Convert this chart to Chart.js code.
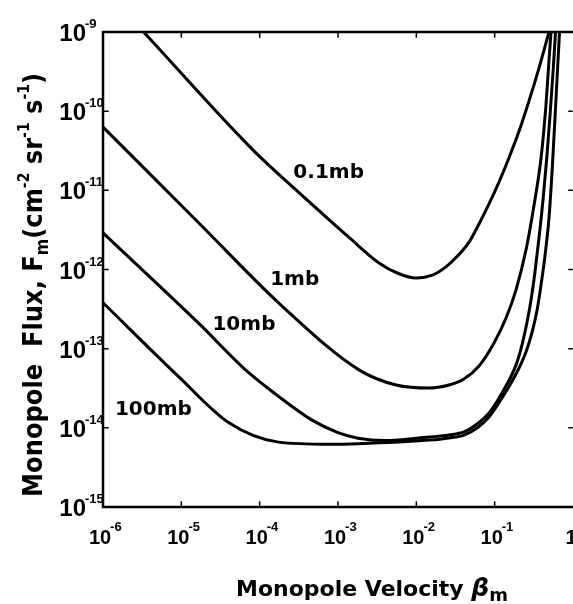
<!DOCTYPE html>
<html>
<head>
<meta charset="utf-8">
<script src="https://cdn.jsdelivr.net/npm/chart.js@4.4.1/dist/chart.umd.min.js"></script>
<style>
  body { margin: 0; background: #fff; overflow: hidden; }
  #wrap { width: 573px; height: 604px; }
</style>
</head>
<body>
<div id="wrap"><canvas id="fluxChart" width="573" height="604"></canvas></div>
<script>
// values (beta, flux in cm^-2 sr^-1 s^-1)
var beta01 = [3.3e-6, 8.3e-5, 3.2e-4, 7.6e-4, 1.35e-3, 3.34e-3, 5.9e-3, 9.9e-3, 1.6e-2, 2.39e-2, 3.4e-2, 4.71e-2, 6.31e-2, 8.47e-2, 0.1135, 0.152, 0.205, 0.274, 0.368, 0.494];
var flux01 = [1e-9, 3.2e-11, 9.3e-12, 4.3e-12, 2.6e-12, 1.21e-12, 8.9e-13, 7.8e-13, 8.5e-13, 1.08e-12, 1.50e-12, 2.22e-12, 3.76e-12, 6.73e-12, 1.27e-11, 2.56e-11, 5.6e-11, 1.34e-10, 3.5e-10, 1e-9];

var beta1 = [1e-6, 1.66e-5, 1.9e-4, 1.85e-3, 5.5e-3, 1.452e-2, 2.61e-2, 4.06e-2, 6.31e-2, 9.81e-2, 0.1396, 0.187, 0.251, 0.318, 0.391, 0.452, 0.494, 0.524];
var flux1 = [6.3e-11, 3.9e-12, 3.5e-13, 5.4e-14, 3.48e-14, 3.18e-14, 3.48e-14, 4.14e-14, 6.04e-14, 1.18e-13, 2.44e-13, 5.5e-13, 1.76e-12, 6.5e-12, 2.56e-11, 1.2e-10, 4.4e-10, 1e-9];

var beta10 = [1e-6, 1.66e-5, 6.6e-5, 1.74e-4, 4.6e-4, 1.0e-3, 1.8e-3, 4.0e-3, 1.452e-2, 2.61e-2, 4.06e-2, 5.96e-2, 8.47e-2, 0.124, 0.187, 0.223, 0.259, 0.291, 0.327, 0.368, 0.414, 0.466, 0.509, 0.556, 0.598];
var flux10 = [2.9e-12, 2.1e-13, 5.4e-14, 2.5e-14, 1.26e-14, 8.7e-15, 7.4e-15, 6.9e-15, 7.65e-15, 8.12e-15, 8.87e-15, 1.12e-14, 1.54e-14, 2.76e-14, 6.2e-14, 1.11e-13, 2.17e-13, 4.1e-13, 9.3e-13, 2.5e-12, 7.5e-12, 2.8e-11, 8.9e-11, 3.1e-10, 1e-9];

var beta100 = [1e-6, 9.3e-6, 4.1e-5, 1.74e-4, 7.6e-4, 1.8e-3, 1.452e-2, 2.61e-2, 4.06e-2, 5.96e-2, 8.47e-2, 0.124, 0.193, 0.251, 0.299, 0.348, 0.391, 0.440, 0.494, 0.540, 0.589, 0.644, 0.673];
var flux100 = [3.8e-13, 4.4e-14, 1.15e-14, 6.6e-15, 6.2e-15, 6.3e-15, 7.0e-15, 7.45e-15, 8.1e-15, 9.96e-15, 1.37e-14, 2.38e-14, 5.07e-14, 9.1e-14, 1.58e-13, 3.08e-13, 6.4e-13, 1.52e-12, 4.5e-12, 1.7e-11, 8.2e-11, 4.4e-10, 1e-9];

var curveNames = ['0.1mb', '1mb', '10mb', '100mb'];
var labelBeta = [7.6e-4, 2.8e-4, 6.3e-5, 4.4e-6];
var labelFlux = [1.66e-11, 7.4e-13, 2.0e-13, 1.7e-14];

var xTickValues = [1e-6, 1e-5, 1e-4, 1e-3, 1e-2, 1e-1, 1];
var xTickLabels = ['10^-6', '10^-5', '10^-4', '10^-3', '10^-2', '10^-1', '1'];
var yTickValues = [1e-9, 1e-10, 1e-11, 1e-12, 1e-13, 1e-14, 1e-15];
var yTickLabels = ['10^-9', '10^-10', '10^-11', '10^-12', '10^-13', '10^-14', '10^-15'];

function toPoints(xs, ys) {
    return xs.map(function (x, i) { return { x: x, y: ys[i] }; });
}

// draw a list of [text, size, dy, italic] pieces along the baseline, squeezed by sx
function richText(ctx, parts, family, sx, measureOnly) {
    var w = 0;
    parts.forEach(function (p) {
        ctx.font = (p[3] ? 'italic ' : '') + 'bold ' + p[1] + 'px ' + family;
        if (!measureOnly) ctx.fillText(p[0], w, p[2]);
        w += ctx.measureText(p[0]).width;
    });
    return w * sx;
}

var framePlugin = {
    id: 'frame',
    afterDraw: function (chart) {
        var ctx = chart.ctx;
        var a = chart.chartArea;
        var xs = chart.scales.x, ys = chart.scales.y;
        ctx.save();
        ctx.strokeStyle = '#000';
        ctx.fillStyle = '#000';
        ctx.lineCap = 'square';

        // box
        ctx.lineWidth = 2.5;
        ctx.beginPath();
        ctx.moveTo(a.right, a.top); ctx.lineTo(a.left, a.top);
        ctx.lineTo(a.left, a.bottom); ctx.lineTo(a.right, a.bottom);
        ctx.stroke();

        // inward ticks
        ctx.lineWidth = 1.5;
        xTickValues.slice(1, -1).forEach(function (v) {
            var px = xs.getPixelForValue(v);
            ctx.beginPath();
            ctx.moveTo(px, a.bottom); ctx.lineTo(px, a.bottom - 5);
            ctx.moveTo(px, a.top); ctx.lineTo(px, a.top + 5);
            ctx.stroke();
        });
        yTickValues.slice(1, -1).forEach(function (v) {
            var py = ys.getPixelForValue(v);
            ctx.beginPath();
            ctx.moveTo(a.left, py); ctx.lineTo(a.left + 5, py);
            ctx.moveTo(a.right - 1, py); ctx.lineTo(a.right - 4, py);
            ctx.stroke();
        });

        // x tick labels
        xTickLabels.forEach(function (lab, i) {
            var px = xs.getPixelForValue(xTickValues[i]);
            var parts = lab.split('^');
            ctx.font = 'bold 20px "Liberation Sans", Arial, sans-serif';
            ctx.textAlign = 'center';
            ctx.textBaseline = 'alphabetic';
            var cx = parts.length > 1 ? px - 3 : px - 2;
            ctx.fillText(parts[0], cx, a.bottom + 37);
            if (parts.length > 1) {
                var bw = ctx.measureText(parts[0]).width;
                ctx.font = 'bold 13px "Liberation Sans", Arial, sans-serif';
                ctx.textAlign = 'left';
                ctx.fillText(parts[1], cx + bw / 2 - 1, a.bottom + 24);
            }
        });

        // y tick labels
        yTickLabels.forEach(function (lab, i) {
            var py = ys.getPixelForValue(yTickValues[i]);
            var parts = lab.split('^');
            ctx.font = 'bold 24px "Liberation Sans", Arial, sans-serif';
            ctx.textAlign = 'right';
            ctx.textBaseline = 'alphabetic';
            ctx.fillText(parts[0], a.left - 17, py + 9);
            ctx.font = 'bold 13px "Liberation Sans", Arial, sans-serif';
            ctx.textAlign = 'left';
            ctx.fillText(parts[1], a.left - 18, py - 4);
        });

        // curve labels
        ctx.font = 'bold 20px "DejaVu Sans", sans-serif';
        ctx.textAlign = 'center';
        ctx.textBaseline = 'middle';
        curveNames.forEach(function (name, i) {
            ctx.fillText(name, xs.getPixelForValue(labelBeta[i]), ys.getPixelForValue(labelFlux[i]));
        });

        // axis titles
        ctx.textAlign = 'left';
        ctx.textBaseline = 'alphabetic';
        var fam = '"DejaVu Sans", sans-serif';

        var xParts = [['Monopole Velocity ', 22, 0], ['\u03b2', 25, 0, true], ['m', 18, 5]];
        var sxX = 1.0;
        var wX = richText(ctx, xParts, fam, sxX, true);
        ctx.save();
        ctx.translate(372 - wX / 2, 596);
        ctx.scale(sxX, 1);
        richText(ctx, xParts, fam, sxX, false);
        ctx.restore();

        var yParts = [['Monopole  Flux, F', 26, 0], ['m', 17, 6], ['(cm', 26, 0], ['-2', 15, -13],
                      [' sr', 26, 0], ['-1', 15, -13], [' s', 26, 0], ['-1', 15, -13], [')', 26, 0]];
        var wY = richText(ctx, yParts, fam, 1, true);
        var sxY = 424 / wY;
        ctx.save();
        ctx.translate(42, 497);
        ctx.rotate(-Math.PI / 2);
        ctx.scale(sxY, 1);
        richText(ctx, yParts, fam, sxY, false);
        ctx.restore();

        ctx.restore();
    }
};

var lineStyle = {
    showLine: true,
    borderColor: '#000',
    borderWidth: 3,
    pointRadius: 0,
    fill: false,
    cubicInterpolationMode: 'monotone'
};

var ctx = document.getElementById('fluxChart').getContext('2d');
var fluxChart = new Chart(ctx, {
    type: 'scatter',
    data: {
        datasets: [
            Object.assign({ label: curveNames[0], data: toPoints(beta01, flux01) }, lineStyle),
            Object.assign({ label: curveNames[1], data: toPoints(beta1, flux1) }, lineStyle),
            Object.assign({ label: curveNames[2], data: toPoints(beta10, flux10) }, lineStyle),
            Object.assign({ label: curveNames[3], data: toPoints(beta100, flux100) }, lineStyle)
        ]
    },
    options: {
        responsive: false,
        animation: false,
        layout: { padding: { left: 103, top: 32, right: 0, bottom: 97 } },
        plugins: { legend: { display: false }, tooltip: { enabled: false } },
        scales: {
            x: { type: 'logarithmic', min: 1e-6, max: 1, display: false },
            y: { type: 'logarithmic', min: 1e-15, max: 1e-9, display: false }
        }
    },
    plugins: [framePlugin]
});
</script>
</body>
</html>
